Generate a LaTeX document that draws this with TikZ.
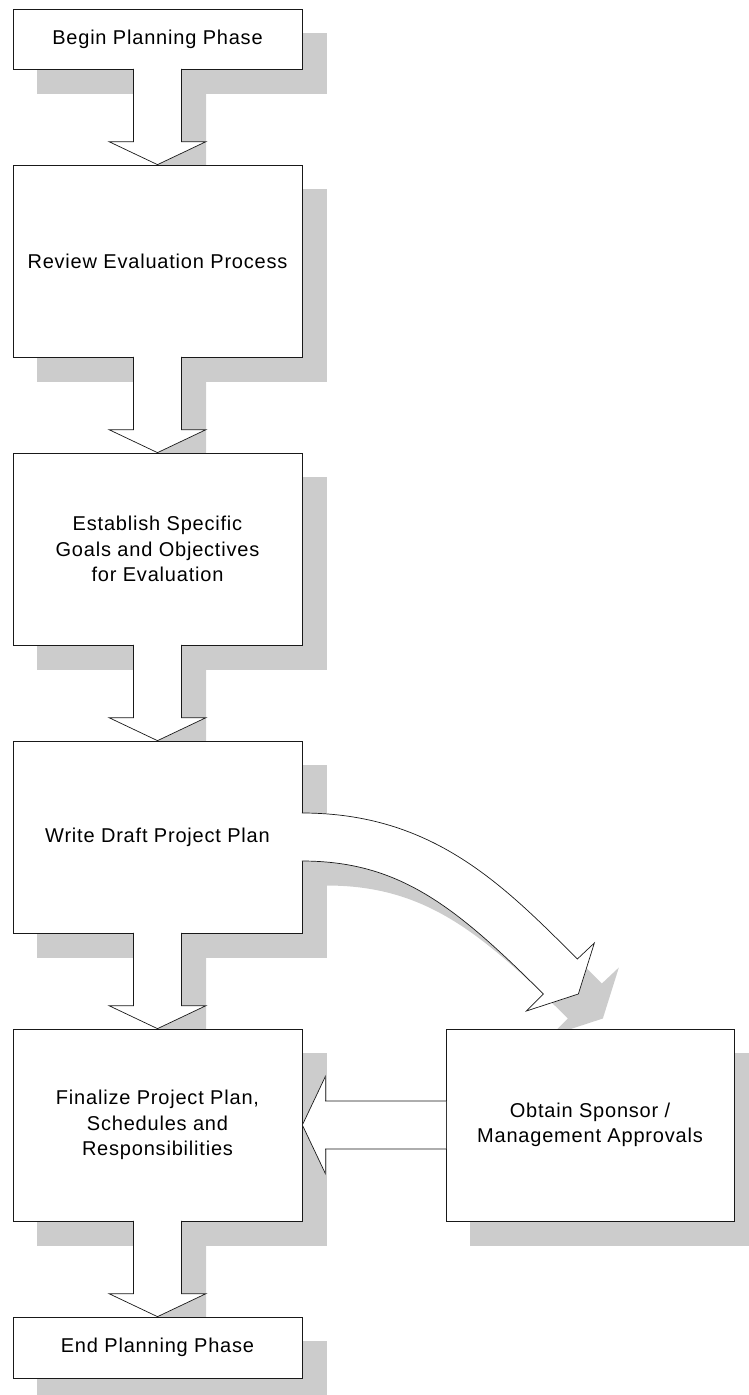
\documentclass[tikz,border=0pt]{standalone}
\usepackage{fontspec}
\setmainfont{Liberation Sans}[LetterSpace=4]
\usetikzlibrary{calc,backgrounds}

\definecolor{shadowgray}{HTML}{CCCCCC}

% fat down arrow between two stacked boxes, #3 = shift (for the shadow)
\newcommand{\stemarrow}[3]{($(#1.south)+(-24+#3,-0.5+#3)$) -- ($(#2.north)+(-24+#3,-23+#3)$) -- ($(#2.north)+(-48.5+#3,-23+#3)$) -- ($(#2.north)+(#3,#3)$) -- ($(#2.north)+(48.5+#3,-23+#3)$) -- ($(#2.north)+(24+#3,-23+#3)$) -- ($(#1.south)+(24+#3,-0.5+#3)$)}
% bent arrow leaving the draft box
\newcommand{\bentarrow}[1]{($(draft.east)+(-0.5+#1,-24+#1)$) .. controls ($(draft.east)+(130+#1,-24+#1)$) and ($(draft.east)+(200+#1,47+#1)$) .. ($(draft.east)+(275+#1,122+#1)$) -- ($(draft.east)+(292+#1,106+#1)$) -- ($(draft.east)+(276+#1,157+#1)$) -- ($(draft.east)+(224+#1,174+#1)$) -- ($(draft.east)+(241+#1,157+#1)$) .. controls ($(draft.east)+(152+#1,68+#1)$) and ($(draft.east)+(96+#1,24+#1)$) .. ($(draft.east)+(-0.5+#1,24+#1)$)}

\begin{document}
\begin{tikzpicture}[x=1pt, y=-1pt,
    stage/.style={draw=black!90, fill=white, line width=0.7pt, minimum width=289pt, inner sep=0pt, align=center, font=\fontsize{20}{25.5}\selectfont},
    tallbox/.style={stage, minimum height=192pt},
    shortbox/.style={stage, minimum height=60pt},
    shadowfill/.style={fill=shadowgray, draw=none},
    arrfill/.style={fill=white, draw=none},
    arrline/.style={draw=black!90, line width=0.7pt, line join=miter}
]
\useasboundingbox (0,0) rectangle (748,1395);

\node[shortbox] (begin) at (157.5,39) {Begin Planning Phase};
\node[tallbox] (review) at (157.5,261) {Review Evaluation Process};
\node[tallbox] (goals) at (157.5,549) {Establish Specific\\Goals and Objectives\\for Evaluation};
\node[tallbox] (draft) at (157.5,837) {Write Draft Project Plan};
\node[tallbox] (final) at (157.5,1125) {Finalize Project Plan,\\Schedules and\\Responsibilities};
\node[tallbox, minimum width=288pt] (approve) at (590,1125) {Obtain Sponsor /\\Management Approvals};
\node[shortbox, minimum height=61pt] (finish) at (157.5,1347.5) {End Planning Phase};

% shadows
\begin{scope}[on background layer]
\foreach \n in {begin,review,goals,draft,final,approve,finish}
    \fill[shadowfill] ($(\n.north west)+(24.5,24.5)$) rectangle ($(\n.south east)+(24.5,24.5)$);
\foreach \a/\b in {begin/review,review/goals,goals/draft,draft/final,final/finish}
    \fill[shadowfill] \stemarrow{\a}{\b}{24.5} -- cycle;
\fill[shadowfill] \bentarrow{24.5} -- cycle;
\end{scope}

% arrows
\foreach \a/\b in {begin/review,review/goals,goals/draft,draft/final,final/finish} {
    \fill[arrfill] \stemarrow{\a}{\b}{0} -- cycle;
    \draw[arrline] \stemarrow{\a}{\b}{0};
}
\fill[arrfill] \bentarrow{0} -- cycle;
\draw[arrline] \bentarrow{0};

\fill[arrfill] ($(approve.west)+(0.5,-24)$) -- ($(final.east)+(23,-24)$) -- ($(final.east)+(23,-48.5)$) -- (final.east) -- ($(final.east)+(23,48.5)$) -- ($(final.east)+(23,24)$) -- ($(approve.west)+(0.5,24)$) -- cycle;
\draw[arrline] ($(approve.west)+(0.5,-24)$) -- ($(final.east)+(23,-24)$) -- ($(final.east)+(23,-48.5)$) -- (final.east) -- ($(final.east)+(23,48.5)$) -- ($(final.east)+(23,24)$) -- ($(approve.west)+(0.5,24)$);
\end{tikzpicture}
\end{document}
